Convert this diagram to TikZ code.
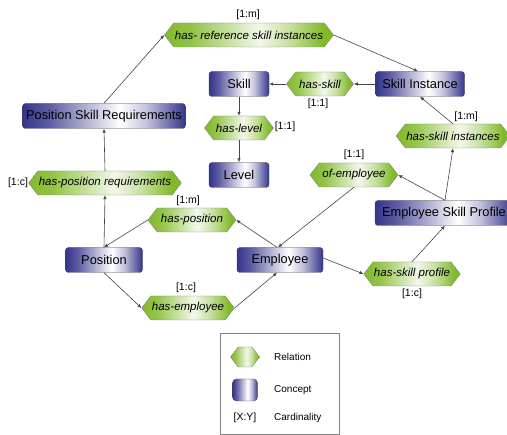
\documentclass[tikz,border=0pt]{standalone}
\usepackage{fontspec}
\setmainfont{Liberation Sans}
\usetikzlibrary{shapes.symbols,arrows.meta}
\definecolor{cblue}{RGB}{52,52,140}
\definecolor{cgreen}{RGB}{128,186,40}
\definecolor{edgegray}{RGB}{70,70,70}
\pgfdeclarehorizontalshading{conceptshade}{100bp}{color(0bp)=(cblue); color(25bp)=(cblue); color(33bp)=(cblue!80); color(55bp)=(white); color(63bp)=(white!70!cblue); color(75bp)=(cblue); color(100bp)=(cblue)}
\pgfdeclarehorizontalshading{relshade}{100bp}{color(0bp)=(cgreen); color(25bp)=(cgreen); color(33bp)=(cgreen!85); color(53bp)=(white!90!cgreen); color(62bp)=(white!55!cgreen); color(72bp)=(cgreen); color(100bp)=(cgreen)}
\tikzset{
  concept/.style={draw=edgegray, rounded corners=3pt, shading=conceptshade, minimum height=25pt, inner sep=0pt, font=\fontsize{12.8}{14}\selectfont},
  relation/.style={shape=signal, signal to=east and west, signal pointer angle=105, draw=gray, shading=relshade, minimum height=24pt, inner xsep=1pt, inner ysep=0pt, font=\fontsize{11.5}{13}\selectfont\itshape},
  card/.style={font=\fontsize{10.5}{12}\selectfont, inner sep=0pt},
  legtext/.style={font=\fontsize{10}{12}\selectfont, inner sep=0pt, anchor=west},
  conn/.style={draw=edgegray, line width=0.6pt, -{Latex[length=4pt,width=3.5pt]}}
}
\begin{document}
\begin{tikzpicture}[x=1pt,y=-1pt]
\useasboundingbox (0,0) rectangle (507,435);
% concepts
\node[concept, minimum width=60pt] (skill) at (239,84) {Skill};
\node[concept, minimum width=89pt] (si) at (420,84) {Skill Instance};
\node[concept, minimum width=163pt] (psr) at (104,116) {Position Skill Requirements};
\node[concept, minimum width=60pt] (level) at (239,175) {Level};
\node[concept, minimum width=138pt] (esp) at (444,213) {Employee Skill Profile};
\node[concept, minimum width=77pt] (pos) at (104,260) {Position};
\node[concept, minimum width=86pt] (emp) at (280,260) {Employee};
% relations
\node[relation, minimum width=169pt] (hr) at (249,35) {has- reference skill instances};
\node[relation, minimum width=67pt] (hs) at (320,84) {has-skill};
\node[relation, minimum width=69pt] (hl) at (239,128) {has-level};
\node[relation, minimum width=99pt] (hsi) at (453,136) {has-skill instances};
\node[relation, minimum width=88pt] (oe) at (354,175) {of-employee};
\node[relation, minimum width=144pt] (hpr) at (105,183) {has-position requirements};
\node[relation, minimum width=88pt] (hp) at (192,220) {has-position};
\node[relation, minimum width=89pt] (hsp) at (412,274) {has-skill profile};
\node[relation, minimum width=90pt] (hemp) at (188,308) {has-employee};
% cardinalities
\node[card] (c1) at (248,15) {[1:m]};
\node[card] (c2) at (318,104) {[1:1]};
\node[card] (c3) at (285,127) {[1:1]};
\node[card] (c4) at (466,117) {[1:m]};
\node[card] (c5) at (354,155) {[1:1]};
\node[card] (c6) at (18,183) {[1:c]};
\node[card] (c7) at (188,201) {[1:m]};
\node[card] (c8) at (412,294) {[1:c]};
\node[card] (c9) at (186,288) {[1:c]};
% connectors
\draw[conn] (psr.north) -- (hr.west);
\draw[conn] (hr.east) -- ([xshift=-2pt]si.north);
\draw[conn] (si.west) -- (hs.east);
\draw[conn] (hs.west) -- (skill.east);
\draw[conn] (skill.south) -- (hl.north);
\draw[conn] (hl.south) -- (level.north);
\draw[conn] (hsi.north) -- (si.south);
\draw[conn] ([xshift=1pt]esp.north) -- (hsi.south);
\draw[conn] ([xshift=1pt]esp.north) -- (oe.east);
\draw[conn] (oe.south) -- ([xshift=-2pt]emp.north);
\draw[conn] ([xshift=-3pt]emp.north) -- (hp.east);
\draw[conn] (hp.west) -- (pos.north);
\draw[conn] (pos.north) -- (hpr.south);
\draw[conn] (hpr.north) -- (psr.south);
\draw[conn] (pos.south) -- (hemp.west);
\draw[conn] (hemp.east) -- ([xshift=-3pt]emp.south);
\draw[conn] ([yshift=2pt]emp.east) -- (hsp.west);
\draw[conn] (hsp.north) -- ([xshift=1pt]esp.south);
% legend
\node[draw=gray, line width=0.6pt, minimum width=119pt, minimum height=101pt, inner sep=0pt] (leg) at (279.5,384) {};
\node[relation, minimum width=29pt, minimum height=20pt] (lrel) at (245,357) {};
\node[concept, minimum width=25pt, minimum height=22pt, rounded corners=4pt] (lcon) at (245,390) {};
\node[card] (lcard) at (245,418) {[X:Y]};
\node[legtext] (trel) at (274,357) {Relation};
\node[legtext] (tcon) at (274,390) {Concept};
\node[legtext] (tcard) at (274,418) {Cardinality};
\end{tikzpicture}
\end{document}
